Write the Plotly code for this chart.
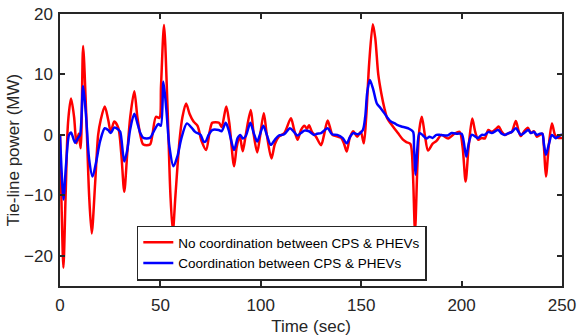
import plotly.graph_objects as go

t_red = [0, 0.8, 1.7, 2.8, 4, 5.5, 7, 8.2, 9.3, 10.3, 11.5, 13, 14.5, 15.8, 17.5, 19, 20.3, 22.3, 24, 25.3,
         27, 29, 30.5, 32, 33.5, 35, 37, 38.5, 40, 41.5, 44.8, 46, 47.8, 49.5, 50.3, 51.8, 53.5, 55, 56.2, 57.5,
         59.5, 61, 62.8, 64.5, 66.5, 68.5, 70.5, 72.8, 74.5, 75.8, 77.5, 79.2, 80.5, 82.8, 84.3, 86.7, 88, 89.5,
         91, 92.5, 95, 96.5, 98.2, 99.5, 101.5, 103, 105.3, 107, 109, 111.7, 115, 116.5, 118.3, 120, 121.7, 123,
         124, 125.5, 127.5, 130, 131.5, 133.3, 135.7, 137.5, 140, 141.5, 142.8, 144.3, 146, 148, 149.8, 151.3,
         152.5, 154, 155.8, 157, 158.5, 160, 161.5, 163, 165.8, 168.3, 170.8, 172.5, 174.5, 175.7, 176.8, 178,
         179, 180.2, 181.7, 183.3, 185.5, 187.5, 190, 193.3, 196.5, 199, 200.5, 202, 203.5, 205.3, 206.8, 208.3,
         210, 211.5, 213.3, 215, 217.5, 218.5, 220, 221.7, 223.5, 225, 227, 228.5, 229.5, 231, 233, 234.5, 236,
         237.5, 239, 240.2, 241, 242, 243.5, 245, 246.5, 248, 250]
p_red = [0, -12, -22, -10, 2, 6, 3, -1.4, 0.2, -2.2, 14.7, 4, -10, -16.3, -8, 0, 2.5, 4.7, 2.5, 0.5,
         2.2, 1.2, -3, -9.4, -3, 3, 7.2, 3, 0, -1.6, -1.6, 0, 3.0, 2.8, 8, 18.2, 5, -10, -16.0, -10,
         -1, 3, 5.2, 3.5, 2.2, 1.5, -1, -2.5, 0.5, 2.0, 2.1, 2.0, 1.3, 4.7, 2, -5.2, -2, -0.2,
         -2.7, 0, 4.1, 0, -2.9, -0.5, 3.6, 0, -3.9, -1.5, -0.3, 0.3, 2.75, 1, -0.8, 0.8, 1.5, 1.0,
         1.6, 0.5, -0.3, -1.7, 0, 2.4, 0.0, -0.2, -0.5, -1.5, -2.75, -0.5, 0.6, -0.3, 0.5, -1.4,
         3, 12, 18.3, 16, 10, 6.9, 4.5, 2.7, 1.4, 0.3, -0.8, -1.2, -1.5, -6, -16.0, -5,
         1, 3.0, 0, -2.6, -1.5, -1.0, 0.0, -0.6, 0.2, 0.5, -2, -7.7, -2, 2.7, 0.5, -0.8,
         -0.5, -0.6, 0.8, 0.5, 1.1, 1.4, 0.5, 0.0, 0.3, 0.5, 2.3, 0.5, -0.2, 0.5, 1.2, 0.3, 0.6,
         -0.3, 0.0, 0.2, -2, -6.9, -1.5, 1.9, 0, -0.5, -0.5]

t_blue = [0, 0.8, 1.7, 3, 4.5, 5.5, 7.5, 9, 10, 11.5, 13, 14.5, 16.2, 18, 20, 22.3, 24, 25.3, 27, 29,
          30, 32, 33.5, 35, 37, 38.5, 40, 41.5, 44.8, 47, 49, 50.2, 51.5, 53, 54.5, 56.5, 58.5, 60.5, 63.2,
          65.5, 67.3, 70, 71.5, 72.5, 74, 75.8, 79, 80.5, 82.5, 84, 86.7, 88.5, 89.8, 91, 92.5, 94.8, 96.5,
          98.2, 99.5, 101.3, 103, 105, 107, 109, 111.7, 114.5, 116.5, 118.2, 120, 121.7, 124, 126.5, 128,
          130, 133.3, 135.5, 138, 140.7, 142.8, 144.5, 146, 148.5, 150.8, 152, 153, 154.3, 156, 157.8, 159.5,
          161.5, 163.3, 164.8, 166.7, 168.2, 170, 173.3, 175.8, 176.3, 177, 177.8, 179, 180.5, 182.5, 184,
          185.5, 187.5, 189.5, 193, 195, 198, 200, 201, 202.3, 203.5, 205, 207, 208, 210, 211.5, 213.5, 215,
          218.2, 220, 221.5, 223.5, 225, 227, 229.5, 231, 233.2, 234.5, 236, 237.5, 239, 240.2, 241, 242,
          243.5, 245, 246.8, 248, 250]
p_blue = [0, -6, -10.7, -5, 0, 0.4, -1.3, -0.5, 0.0, 8.1, 3, -4, -6.9, -4.5, -1, 1.1, 0.8, 0.3, 1.2, 0.9,
          0.5, -4.4, -2.5, 1, 3.5, 2, 0.3, -0.5, -0.5, 0.8, 1.8, 1.5, 8.8, 4, -2, -5.2, -3.5, -0.5, 1.9,
          1.2, 0.5, 0, -1.1, -1.1, 0, 0.8, 0.8, 0.6, 2.0, 0.8, -2.5, -0.5, 0, -0.6, -0.2, 2.0, 0.3,
          -1.1, 0, 1.5, 0, -1.65, -0.8, -0.1, 0.1, 1.1, 0.5, -0.1, 0.3, 0.7, 0.6, 0, 0.2,
          0.3, 1.1, 0.1, 0.0, -0.5, -1.4, -0.3, 0.3, 0.1, 0.8, 3, 7, 9.1, 7.5, 5.2, 4.5,
          3.6, 2.75, 2.2, 1.9, 1.6, 1.4, 1.1, 0.55, -2, -6.6, -3, 0.3, 0, -0.6, -0.3,
          -0.5, 0, 0.0, -0.1, 0.3, 0.2, 0.2, -1, -3.6, -1.5, 0, -0.3, -0.55, 0, 0, 0.5, 0.3,
          0.8, 0.2, 0, 0.3, 0.5, 1.1, 0, 0.3, 0.8, 0.3, 0.5, 0, 0.2, 0.2, -1.5, -3.3,
          -1.5, 0, -0.55, -0.3, 0.1]

series_names = ["No coordination between CPS & PHEVs", "Coordination between CPS & PHEVs"]
x_ticks = [0, 50, 100, 150, 200, 250]
y_ticks = [-20, -10, 0, 10, 20]

FONT = "Liberation Sans, Arial, sans-serif"
AX = "#262626"

fig = go.Figure()
fig.add_trace(go.Scatter(x=t_red, y=p_red, mode="lines", name=series_names[0],
                         line=dict(color="#ff0000", width=2.5, shape="spline", smoothing=0.8)))
fig.add_trace(go.Scatter(x=t_blue, y=p_blue, mode="lines", name=series_names[1],
                         line=dict(color="#0000ff", width=2.5, shape="spline", smoothing=0.8)))

axis_common = dict(showline=True, linecolor=AX, linewidth=1.5, mirror="ticks", ticks="inside",
                   ticklen=5, tickwidth=1.5, tickcolor=AX, showgrid=False, zeroline=False,
                   automargin=False,
                   tickfont=dict(family=FONT, size=17, color=AX))

fig.update_xaxes(range=[0, 250], tickvals=x_ticks, ticklabelstandoff=3,
                 title=dict(text="Time (sec)", font=dict(family=FONT, size=17, color=AX), standoff=7),
                 **axis_common)
fig.update_yaxes(range=[-25, 20], tickvals=y_ticks, ticklabelstandoff=2,
                 title=dict(text="Tie-line power (MW)", font=dict(family=FONT, size=17, color=AX), standoff=0),
                 **axis_common)

fig.update_layout(
    width=578, height=336,
    margin=dict(l=60, r=16, t=14, b=50),
    paper_bgcolor="white", plot_bgcolor="white",
    showlegend=True,
    legend=dict(x=0.153, y=0.02, xanchor="left", yanchor="bottom",
                bgcolor="white", bordercolor=AX, borderwidth=1.5,
                font=dict(family=FONT, size=13.5, color="black"),
                tracegroupgap=0, itemwidth=30),
)

fig.write_html("out.html")
